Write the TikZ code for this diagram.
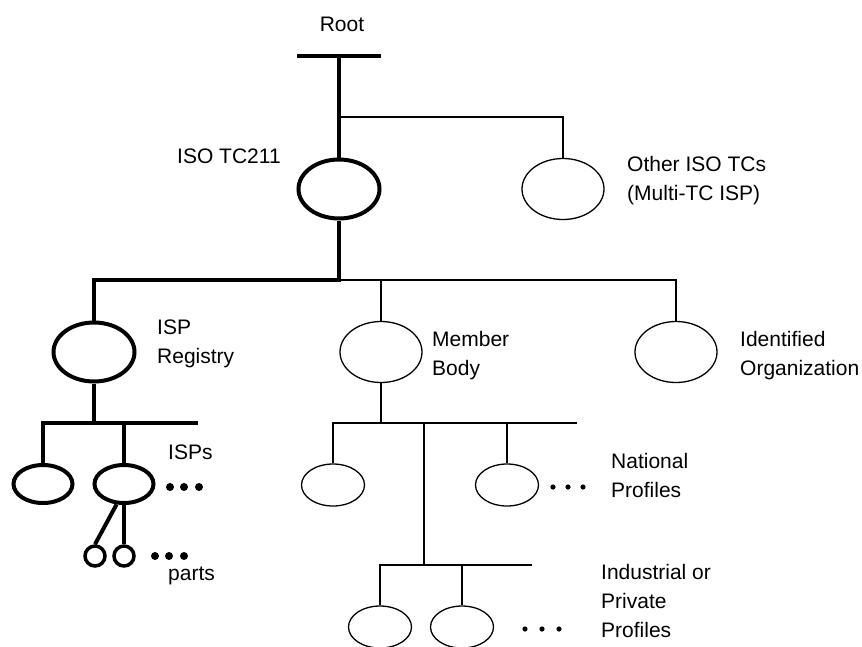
\documentclass[tikz,border=0pt]{standalone}
\usepackage{fontspec}
\setmainfont{Liberation Sans}
\usepackage{tikz}
\usetikzlibrary{shapes.geometric}
\tikzset{
  thickline/.style={line width=4pt,draw=black},
  thinline/.style={line width=1.3pt,draw=black},
  bigthick/.style={draw,ellipse,line width=4pt,inner sep=0pt,minimum width=81pt,minimum height=59pt},
  bigthin/.style={draw,ellipse,line width=1.3pt,inner sep=0pt,minimum width=82pt,minimum height=61pt},
  smallthick/.style={draw,ellipse,line width=4pt,inner sep=0pt,minimum width=59pt,minimum height=38pt},
  smallthin/.style={draw,ellipse,line width=1.3pt,inner sep=0pt,minimum width=63pt,minimum height=42pt},
  partcirc/.style={draw,circle,line width=3.5pt,inner sep=0pt,minimum size=20pt},
  lbl/.style={font=\fontsize{21}{29}\selectfont,inner sep=0pt,align=left,anchor=west}
}
\begin{document}
\begin{tikzpicture}[x=1pt,y=-1pt]
\useasboundingbox (0,0) rectangle (862,646);

% labels
\node[lbl,anchor=center] (root) at (342,24) {Root};
\node[lbl] (tclbl) at (177,156) {ISO TC211};
\node[lbl] (otherlbl) at (627,181) {Other ISO TCs\\(Multi-TC ISP)};
\node[lbl] (reglbl) at (157,344) {ISP\\Registry};
\node[lbl] (memlbl) at (432,356) {Member\\Body};
\node[lbl] (idlbl) at (740,356) {Identified\\Organization};
\node[lbl] (isplbl) at (168,452) {ISPs};
\node[lbl] (partslbl) at (168,576) {parts};
\node[lbl] (natlbl) at (611,475) {National\\Profiles};
\node[lbl] (indlbl) at (601,601) {Industrial or\\Private\\Profiles};

% ovals
\node[bigthick] (tc) at (339,189) {};
\node[bigthin] (other) at (563,189) {};
\node[bigthick] (reg) at (94,352) {};
\node[bigthin] (mem) at (381,352) {};
\node[bigthin] (ident) at (676,352) {};
\node[smallthick] (isp1) at (43,484) {};
\node[smallthick] (isp2) at (124,484) {};
\node[partcirc] (part1) at (95,556) {};
\node[partcirc] (part2) at (124,556) {};
\node[smallthin] (np1) at (333,485) {};
\node[smallthin] (np2) at (507,485) {};
\node[smallthin] (ip1) at (380,627) {};
\node[smallthin] (ip2) at (462,627) {};

% junctions and free ends
\coordinate (rootl) at (297,56);
\coordinate (rootr) at (381,56);
\coordinate (tcj) at (339,117);
\coordinate (busj) at (339,280);
\coordinate (ispend) at (198,423);
\coordinate (natend) at (577,423);
\coordinate (indj) at (424,423);
\coordinate (indend) at (532,565);

% root and TC level
\draw[thickline] (rootl) -- (rootr);
\draw[thickline] (tc.north |- rootl) -- (tc.north);
\draw[thinline] (tcj) -| (other.north);

% second level
\draw[thickline] (tc.south) -- (busj) -| (reg.north);
\draw[thinline] (busj) -| (mem.north);
\draw[thinline] (busj) -| (ident.north);

% ISP registry branch
\draw[thickline] (reg.south) -- (reg.south |- ispend);
\draw[thickline] (isp1.north) |- (ispend);
\draw[thickline] (isp2.north) -- (isp2.north |- ispend);
\draw[thickline] (isp2.250) -- (part1.north);
\draw[thickline] (isp2.south) -- (part2.north);

% member body branch
\draw[thinline] (mem.south) -- (mem.south |- natend);
\draw[thinline] (np1.north) |- (natend);
\draw[thinline] (np2.north) -- (np2.north |- natend);
\draw[thinline] (indj) -- (indj |- indend);
\draw[thinline] (ip1.north) |- (indend);
\draw[thinline] (ip2.north) -- (ip2.north |- indend);

% ellipsis dots
\foreach \x in {170,184,199} \fill (\x,487) circle (4pt);
\foreach \x in {155,169,184} \fill (\x,556) circle (4pt);
\foreach \x in {553,568,583} \fill (\x,487) circle (2.6pt);
\foreach \x in {525,542,559} \fill (\x,629) circle (2.6pt);
\end{tikzpicture}
\end{document}
